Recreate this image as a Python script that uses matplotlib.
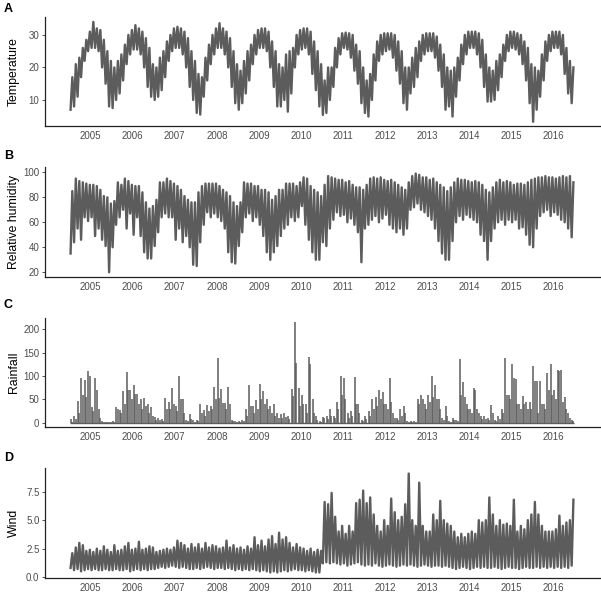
import matplotlib
matplotlib.use("Agg")
import matplotlib.pyplot as plt
import numpy as np

plt.rcParams['font.family'] = ['Liberation Sans', 'DejaVu Sans']

# monthly values, Jan 2005 .. Dec 2016 (12 per row)
years = list(range(2005, 2017))

temp_lo = [
    7, 8, 11, 17, 22, 25, 26, 26, 25, 20, 15, 8,
    7.5, 10, 12, 16, 21, 24, 25.5, 25.5, 24, 20, 14, 11,
    10, 11, 13, 17, 22, 25, 26, 26, 24, 20, 14, 10,
    6, 5.5, 11, 16, 21, 24, 26, 26, 24, 20, 14, 9,
    7, 9, 12, 16, 21, 24, 26, 26, 25, 20, 14, 8,
    8, 10, 6.4, 12, 20, 24, 25.5, 26, 24, 18, 13, 8,
    5.4, 6, 10, 14, 20, 24, 26, 25.5, 23, 19, 15, 9,
    6, 4.9, 10, 16, 22, 24, 25, 25.5, 23, 19, 15, 9,
    7, 12, 14, 17, 22, 24, 25, 25, 23, 19, 14, 7,
    8, 4.9, 11, 16, 21, 24, 26, 26, 24, 20, 14, 9.5,
    9.5, 10, 13, 17, 22, 25, 26, 25.5, 24, 21, 16, 9,
    3.3, 7, 11, 16, 22, 25, 26, 26, 24, 18, 12, 9,
]
temp_hi = [
    17, 21, 23, 26, 28.5, 31, 34, 32, 31.5, 28.5, 25, 22,
    20, 22, 24, 27, 30, 31.5, 33, 32, 31, 29, 26, 21,
    20, 23, 25, 28, 30, 32, 32.5, 32, 31, 29, 25, 22,
    18, 17, 23, 27, 30, 32, 33.6, 32, 31, 29, 25, 21,
    19, 22, 25, 27, 30, 31.5, 32, 32, 31, 28, 25, 21,
    20, 24, 25, 26, 30, 31.5, 32, 32, 31, 28, 25, 21,
    16, 20, 20, 26, 29, 30.5, 30.7, 30.5, 30, 27, 25, 20,
    16, 18, 24, 28, 30, 30.5, 30.5, 30.5, 30, 28, 25, 20,
    20, 23, 26, 28, 30, 30.5, 30.5, 30.5, 29.5, 27, 24, 20,
    19, 20, 23, 27, 30, 31, 31, 31, 30.5, 28.5, 24, 20,
    19, 22, 24, 27, 30, 31, 31, 30.5, 30, 28, 26, 21,
    20, 19, 24, 28, 30, 31, 31, 31, 30, 26, 22, 20,
]

rh_lo = [
    35, 44, 55, 46, 64, 61, 64, 49, 55, 46, 41, 20,
    40, 58, 64, 70, 55, 67, 50, 64, 49, 36, 31, 31,
    41, 52, 64, 67, 64, 64, 46, 55, 44, 49, 40, 26,
    25, 44, 58, 68, 64, 67, 64, 61, 55, 36, 28, 27,
    41, 52, 64, 67, 61, 64, 58, 49, 36, 30, 36, 41,
    49, 55, 58, 64, 61, 64, 73, 58, 46, 36, 30, 30,
    44, 41, 55, 62, 68, 65, 66, 60, 63, 58, 52, 28,
    55, 58, 62, 65, 60, 63, 66, 58, 55, 52, 55, 50,
    55, 70, 72, 75, 70, 68, 65, 62, 55, 45, 35, 30,
    30, 45, 60, 65, 62, 66, 64, 62, 60, 50, 45, 30,
    45, 55, 60, 62, 58, 62, 60, 62, 55, 56, 50, 42,
    40, 55, 65, 68, 70, 65, 68, 66, 62, 60, 55, 48,
]
rh_hi = [
    85, 95, 93, 92, 91, 90, 90, 89, 86, 81, 80, 75,
    77, 92, 90, 95, 93, 90, 89, 89, 84, 76, 71, 73,
    78, 92, 92, 95, 93, 91, 89, 86, 81, 78, 76, 76,
    84, 89, 91, 91, 91, 91, 89, 86, 84, 81, 76, 73,
    76, 92, 91, 91, 89, 89, 86, 86, 84, 78, 81, 86,
    86, 91, 91, 91, 89, 92, 96, 95, 89, 86, 84, 81,
    90, 97, 96, 95, 94, 94, 92, 93, 90, 88, 88, 86,
    90, 95, 96, 95, 96, 94, 93, 94, 92, 90, 88, 86,
    92, 97, 99, 98, 96, 96, 94, 95, 92, 90, 88, 85,
    88, 92, 95, 94, 94, 93, 92, 93, 92, 90, 86, 84,
    88, 92, 94, 92, 93, 92, 90, 91, 91, 90, 92, 94,
    95, 96, 96, 97, 96, 96, 95, 96, 97, 96, 97, 92,
]

rain_max = [
    7, 14, 46, 96, 91, 110, 34, 95, 29, 3, 2, 2,
    3, 33, 27, 67, 108, 70, 80, 62, 50, 53, 40, 33,
    12, 10, 8, 53, 45, 74, 35, 100, 50, 5, 18, 5,
    5, 40, 27, 38, 36, 76, 138, 73, 42, 77, 5, 3,
    3, 5, 30, 80, 35, 49, 82, 68, 50, 35, 40, 20,
    18, 20, 15, 73, 215, 75, 60, 40, 141, 50, 15, 3,
    12, 15, 30, 15, 45, 100, 95, 20, 25, 97, 40, 5,
    15, 25, 50, 55, 70, 65, 40, 95, 20, 10, 30, 35,
    3, 3, 3, 50, 60, 40, 60, 100, 80, 50, 10, 35,
    3, 10, 5, 136, 87, 40, 30, 75, 30, 15, 15, 10,
    38, 5, 15, 30, 139, 60, 125, 93, 40, 57, 45, 45,
    121, 90, 90, 40, 106, 125, 70, 113, 113, 55, 20, 5,
]
rain_2nd = [
    2, 8, 20, 60, 56, 100, 25, 71, 10, 1, 1, 1,
    1, 30, 20, 40, 70, 50, 62, 40, 30, 35, 20, 15,
    5, 5, 4, 30, 30, 40, 25, 50, 20, 3, 8, 2,
    3, 20, 15, 25, 30, 50, 53, 42, 30, 40, 3, 2,
    2, 3, 15, 35, 20, 30, 50, 40, 30, 20, 15, 10,
    10, 12, 8, 57, 128, 35, 40, 20, 125, 20, 5, 2,
    10, 8, 15, 10, 30, 60, 50, 10, 15, 40, 20, 3,
    8, 15, 30, 35, 50, 40, 30, 45, 10, 5, 15, 20,
    2, 2, 2, 40, 50, 30, 45, 55, 50, 30, 5, 15,
    2, 5, 3, 60, 56, 30, 20, 70, 20, 8, 8, 5,
    20, 3, 8, 20, 60, 50, 95, 40, 30, 40, 30, 30,
    90, 20, 40, 30, 70, 60, 50, 110, 45, 30, 10, 3,
]

wind_lo = [
    0.8, 0.6, 0.7, 0.5, 0.6, 0.7, 0.6, 0.7, 0.6, 0.6, 0.7, 0.6,
    0.6, 0.7, 0.6, 0.6, 0.7, 0.5, 0.6, 0.7, 0.6, 0.7, 0.6, 0.7,
    0.7, 0.8, 0.9, 0.8, 0.9, 1.0, 0.9, 0.8, 0.9, 0.8, 0.7, 0.7,
    0.8, 0.7, 0.8, 0.9, 0.8, 0.7, 0.8, 0.8, 0.7, 0.8, 0.7, 0.6,
    0.7, 0.6, 0.7, 0.6, 0.7, 0.6, 0.5, 0.6, 0.5, 0.4, 0.5, 0.4,
    0.5, 0.6, 0.5, 0.6, 0.7, 0.6, 0.6, 0.5, 0.6, 0.5, 0.4, 0.4,
    1.2, 1.3, 1.2, 1.3, 1.2, 1.1, 1.2, 1.0, 1.1, 1.2, 1.3, 1.1,
    1.0, 1.1, 1.0, 1.2, 1.0, 0.9, 1.0, 1.1, 1.0, 0.9, 1.0, 1.1,
    1.0, 1.1, 1.0, 0.9, 1.0, 1.1, 1.0, 0.9, 1.0, 1.0, 0.9, 1.0,
    0.9, 0.8, 0.7, 0.8, 0.9, 0.8, 0.7, 0.8, 0.9, 0.8, 0.9, 0.8,
    0.8, 0.9, 0.8, 0.7, 0.8, 0.9, 0.8, 0.8, 0.7, 0.8, 0.9, 0.8,
    0.8, 0.9, 0.8, 0.9, 0.8, 0.9, 0.8, 0.9, 0.8, 0.9, 0.8, 1.0,
]
wind_hi = [
    2.1, 2.6, 3.0, 2.8, 2.3, 2.4, 2.2, 2.5, 2.3, 2.7, 2.4, 2.2,
    2.8, 2.3, 2.4, 2.7, 3.0, 2.4, 2.5, 3.1, 2.4, 2.5, 2.7, 2.6,
    2.2, 2.3, 2.4, 2.5, 2.4, 2.6, 3.2, 3.0, 2.8, 2.5, 2.9, 2.6,
    2.9, 2.5, 3.0, 2.6, 2.8, 2.7, 2.5, 2.6, 3.2, 2.6, 2.8, 2.5,
    2.6, 2.4, 2.7, 2.5, 3.5, 2.8, 3.2, 2.7, 3.3, 3.6, 2.9, 3.9,
    3.3, 3.5, 3.0, 2.6, 2.9, 2.6, 2.5, 2.3, 2.5, 2.2, 2.4, 2.3,
    6.6, 6.4, 7.4, 5.3, 4.0, 4.5, 3.8, 4.5, 4.0, 6.5, 6.8, 7.6,
    6.5, 7.0, 5.5, 4.5, 4.0, 5.0, 4.5, 6.9, 5.7, 5.0, 5.3, 6.4,
    9.1, 5.0, 4.5, 8.3, 4.5, 4.0, 4.0, 5.5, 5.0, 6.7, 5.0, 4.7,
    4.5, 4.0, 3.5, 3.8, 3.5, 3.8, 4.0, 3.8, 5.0, 4.8, 5.0, 7.0,
    5.5, 4.5, 5.0, 4.6, 4.7, 4.5, 6.8, 4.0, 4.5, 4.2, 5.0, 5.5,
    6.6, 5.5, 4.5, 4.0, 4.0, 4.0, 4.2, 5.4, 4.5, 4.8, 5.0, 6.8,
]

line_col = "#5c5c5c"
months = 2005 + np.arange(len(temp_lo)) / 12.0


def zigzag(ax, lo, hi):
    # low and high of each month, joined in turn
    x = np.column_stack([months + 0.25 / 12, months + 0.75 / 12]).ravel()
    y = np.column_stack([lo, hi]).ravel()
    ax.plot(x, y, color=line_col, lw=1.7, solid_joinstyle="round")


fig = plt.figure(figsize=(6.01, 5.92), dpi=100)
W, H = 601.0, 592.0
left = 45 / W
width = 1 - left
# (top, bottom) of each panel in pixels
boxes = [(17, 126), (166.7, 277), (318.3, 426.7), (468.3, 577.7)]
axes = []
for top, bot in boxes:
    axes.append(fig.add_axes([left, 1 - bot / H, width, (bot - top) / H]))

ax1, ax2, ax3, ax4 = axes
zigzag(ax1, temp_lo, temp_hi)
zigzag(ax2, rh_lo, rh_hi)
ax3.hlines(0, 2005, 2017, color=line_col, lw=1.0)
ax3.vlines(months + 0.3 / 12, 0, rain_max, color=line_col, lw=1.1)
ax3.vlines(months + 0.7 / 12, 0, rain_2nd, color=line_col, lw=1.1)
zigzag(ax4, wind_lo, wind_hi)

ylims = [(2.0, 35.5), (16.2, 104.5), (-8.6, 223.6), (-0.06, 9.56)]
yticks = [[10, 20, 30], [20, 40, 60, 80, 100], [0, 50, 100, 150, 200], [0.0, 2.5, 5.0, 7.5]]
ylabels = ["Temperature", "Relative humidity", "Rainfall", "Wind"]
for ax, yl, yt, lab in zip(axes, ylims, yticks, ylabels):
    ax.set_xlim(2004.413, 2017.635)
    ax.set_ylim(*yl)
    ax.set_yticks(yt)
    if ax is ax4:
        ax.set_yticklabels(["%.1f" % v for v in yt])
    ax.set_xticks([y + 0.5 for y in years])
    ax.set_xticklabels([str(y) for y in years])
    ax.tick_params(axis="x", length=0, pad=3.5, labelsize=7, labelcolor="#4d4d4d")
    ax.tick_params(axis="y", length=2.5, width=0.6, color="#333333", pad=1.5,
                   labelsize=7, labelcolor="#4d4d4d")
    for s in ["top", "right"]:
        ax.spines[s].set_visible(False)
    for s in ["left", "bottom"]:
        ax.spines[s].set_color("#222222")
        ax.spines[s].set_linewidth(0.9)
    ax.set_ylabel(lab, fontsize=8.8, color="black")
    ax.yaxis.set_label_coords(-25 / 556.0, 0.5)

for lab, ytop in zip("ABCD", [3, 150, 299, 452]):
    fig.text(4 / W, 1 - ytop / H, lab, fontsize=9, fontweight="bold", va="top", ha="left")

fig.savefig("out.png", dpi=100)
